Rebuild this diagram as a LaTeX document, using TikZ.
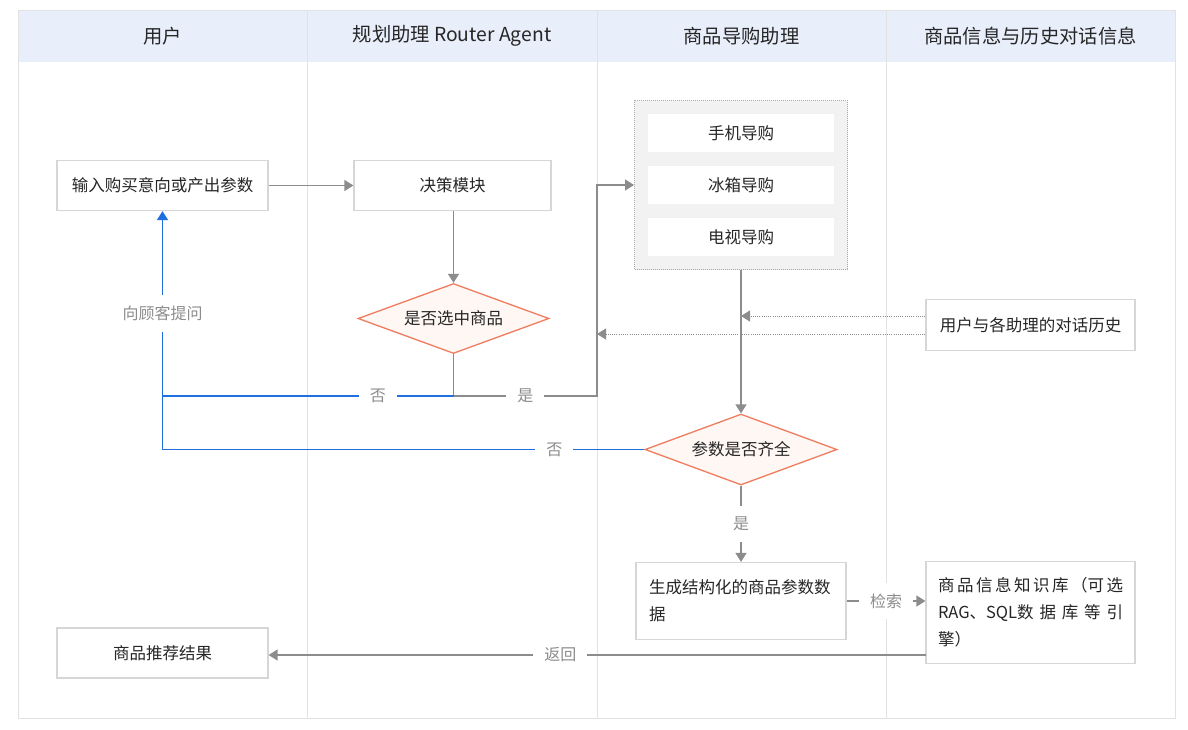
\documentclass[tikz,border=0pt]{standalone}
\usepackage{fontspec}
\setmainfont{Noto Sans CJK SC}
\usetikzlibrary{arrows.meta,shapes.geometric}
\definecolor{hdrfill}{HTML}{E9EEFB}
\definecolor{frame}{HTML}{E2E2E2}
\definecolor{boxline}{HTML}{D6D6D6}
\definecolor{txt}{HTML}{262626}
\definecolor{lblc}{HTML}{8C8C8C}
\definecolor{garr}{HTML}{8C8C8C}
\definecolor{barr}{HTML}{1F6FE0}
\definecolor{orng}{HTML}{F07C5E}
\definecolor{diafill}{HTML}{FFF7F4}
\definecolor{grpfill}{HTML}{F2F2F2}
\definecolor{grpline}{HTML}{A8A8A8}
\tikzset{
  nodefont/.style={font=\fontsize{16.5}{27}\selectfont, text=txt},
  box/.style={nodefont, draw=boxline, line width=1.2pt, fill=white, inner sep=0pt},
  dia/.style={nodefont, diamond, aspect=2.7, draw=orng, line width=1.3pt, fill=diafill, inner sep=0pt},
  hdr/.style={font=\fontsize{19.3}{23}\selectfont, text=txt},
  lbl/.style={font=\fontsize{16}{20}\selectfont, text=lblc, fill=white, inner sep=11pt},
  garrow/.style={draw=garr, line width=1.3pt, -{Triangle[length=9pt,width=11pt]}},
  gline/.style={draw=garr, line width=1.3pt},
  barrow/.style={draw=barr, line width=1.3pt, -{Triangle[length=9pt,width=11pt]}},
  bline/.style={draw=barr, line width=1.3pt},
  darrow/.style={draw=garr, line width=1pt, dash pattern=on 1pt off 1.2pt, -{Triangle[length=9pt,width=11pt]}},
  inner/.style={nodefont, fill=white, inner sep=0pt, minimum width=186pt, minimum height=38pt},
}
\begin{document}
\begin{tikzpicture}[x=1pt,y=-1pt]
\useasboundingbox (0,0) rectangle (1188,729);
\fill[white] (0,0) rectangle (1188,729);
% frame and lanes
\fill[hdrfill] (18,10) rectangle (1175,62);
\draw[frame, line width=1pt] (18,10) rectangle (1175,718);
\foreach \x in {307,597,886} \draw[frame, line width=1pt] (\x,10) -- (\x,718);
\node[hdr] (h1) at (162.5,36) {用户};
\node[hdr] (h2) at (452,36) {规划助理 Router Agent};
\node[hdr] (h3) at (741.5,36) {商品导购助理};
\node[hdr] (h4) at (1030.5,36) {商品信息与历史对话信息};

% nodes
\node[box, minimum width=211pt, minimum height=50pt] (in) at (162.5,185.5) {输入购买意向或产出参数};
\node[box, minimum width=197pt, minimum height=50pt] (dec) at (452.5,185.5) {决策模块};
\node[dia, minimum width=191pt, minimum height=70pt] (d1) at (453.5,318.5) {是否选中商品};
\node[draw=grpline, line width=1pt, dash pattern=on 1pt off 1pt, fill=grpfill, minimum width=213pt, minimum height=169pt, inner sep=0pt] (grp) at (741,185) {};
\node[inner] (phone) at (741,133) {手机导购};
\node[inner] (fridge) at (741,185) {冰箱导购};
\node[inner] (tv) at (741,237) {电视导购};
\node[box, minimum width=209pt, minimum height=51pt] (hist) at (1030.5,325) {用户与各助理的对话历史};
\node[dia, minimum width=192pt, minimum height=71pt] (d2) at (741,449.5) {参数是否齐全};
\node[box, minimum width=210pt, minimum height=77pt, text width=184pt, align=left] (gen) at (741,601) {生成结构化的商品参数数\\据};
\node[box, minimum width=209pt, minimum height=102pt, text width=185pt, align=left] (kb) at (1030.5,612.5) {\makebox[185pt][s]{商\hfill 品\hfill 信\hfill 息\hfill 知\hfill 识\hfill 库\hfill （可\hfill 选}\\\makebox[185pt][s]{RAG、SQL数\hfill 据\hfill 库\hfill 等\hfill 引}\\擎）};
\node[box, minimum width=211pt, minimum height=50pt] (rec) at (162.5,653) {商品推荐结果};

% coordinates
\coordinate (j1) at (453.5,396);
\coordinate (r1) at (597,396);
\coordinate (r2) at (597,185);
\coordinate (bl1) at (162.5,396);
\coordinate (bl2) at (162.5,449.5);
\coordinate (ret) at (926,655);

% connectors
\draw[garrow] (in.east) -- (dec.west);
\draw[garrow] (dec.south -| d1.north) -- (d1.north);
\draw[garrow] (d1.south) -- (j1) -- node[lbl]{是} (r1) -- (r2) -- (r2 -| grp.west);
\draw[bline] (j1) -- node[lbl, pos=0.26]{否} (bl1);
\draw[barrow] (bl1) -- node[lbl, pos=0.446]{向顾客提问} (in.south);
\draw[bline] (d2.west) -- node[lbl, pos=0.187]{否} (bl2) -- (bl1);
\draw[garrow] (grp.south) -- (d2.north);
\draw[darrow] ([yshift=9pt]hist.west) -- ([yshift=9pt]hist.west -| grp.south);
\draw[darrow] ([yshift=-9pt]hist.west) -- ([yshift=-9pt]hist.west -| r1);
\draw[garrow] (d2.south) -- node[lbl]{是} (gen.north);
\draw[garrow] (gen.east) -- node[lbl]{检索} (gen.east -| kb.west);
\draw[garrow] (ret) -- node[lbl, pos=0.556]{返回} (ret -| rec.east);
\end{tikzpicture}
\end{document}
